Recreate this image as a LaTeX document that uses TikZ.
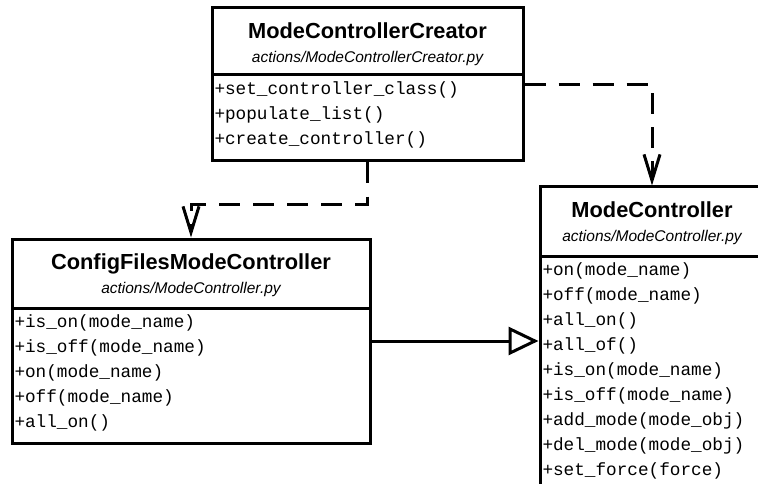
\documentclass[tikz,border=0pt]{standalone}
\usepackage{fontspec}
\setsansfont{Liberation Sans}
\setmonofont{Liberation Mono}
\usetikzlibrary{shapes.multipart,arrows.meta}

\newcommand{\umlhead}[4]{\begin{minipage}[t][#2][t]{#1}\centering
  \sffamily\fontsize{15.5}{24}\selectfont\vspace*{13pt}%
  {\bfseries\fontsize{21.8}{24}\selectfont #3}\\
  {\itshape #4}\end{minipage}}
\newcommand{\umlbody}[3]{\begin{minipage}[t][#2][t]{#1}
  \leftskip=2.5pt\ttfamily\fontsize{17.7}{25}\selectfont\vspace*{5pt}%
  #3\end{minipage}}

\begin{document}
\begin{tikzpicture}[x=1pt,y=-1pt,
    umlclass/.style={draw,line width=3pt,fill=white,rectangle split,rectangle split parts=2,inner sep=0pt,anchor=north west},
    depends/.style={line width=3pt,dash pattern=on 21pt off 13pt,-{Straight Barb[length=26pt,width=16pt]}},
    inherits/.style={line width=3pt,-{Triangle[open,length=30pt,width=28pt,fill=white]}}]
  \useasboundingbox (0,0) rectangle (758,484);
  \clip (0,0) rectangle (758,484);
  \node[umlclass] (creator) at (210.5,6.5) {\umlhead{311pt}{64pt}{ModeControllerCreator}{actions/ModeControllerCreator.py}
    \nodepart{two}\umlbody{311pt}{83pt}{+set\_controller\_class()\\+populate\_list()\\+create\_controller()}};
  \node[umlclass] (cfg) at (10.5,237.5) {\umlhead{358pt}{66pt}{ConfigFilesModeController}{actions/ModeController.py}
    \nodepart{two}\umlbody{358pt}{132pt}{+is\_on(mode\_name)\\+is\_off(mode\_name)\\+on(mode\_name)\\+off(mode\_name)\\+all\_on()}};
  \node[umlclass] (mc) at (538.5,185.5) {\umlhead{224pt}{66pt}{ModeController}{actions/ModeController.py}
    \nodepart{two}\umlbody{224pt}{260pt}{+on(mode\_name)\\+off(mode\_name)\\+all\_on()\\+all\_of()\\+is\_on(mode\_name)\\+is\_off(mode\_name)\\+add\_mode(mode\_obj)\\+del\_mode(mode\_obj)\\+set\_force(force)}};
  \draw[depends] ([yshift=-10pt]creator.text split east) -| (mc.north);
  \draw[depends] (creator.south) -- ++(0,42) -| (cfg.north);
  \draw[inherits] (cfg.east) -- (cfg.east -| mc.west);
\end{tikzpicture}
\end{document}
